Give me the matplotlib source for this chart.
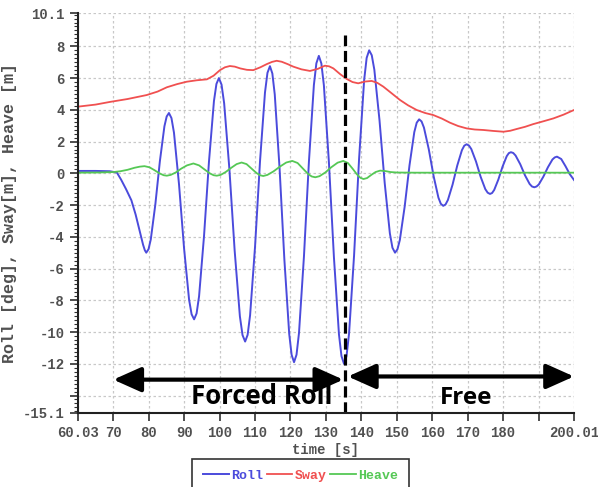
import matplotlib
matplotlib.use("Agg")
import matplotlib.pyplot as plt
from matplotlib.ticker import FixedLocator, MultipleLocator

# roll [deg]
roll_t = [60.03, 65.0, 69.0, 71.0, 72.2, 73.6, 75.1, 76.3, 77.4, 78.4, 78.9, 79.3, 79.94, 80.58,
          81.86, 83.14, 84.42, 85.06, 85.7, 86.41, 87.12, 88.54, 89.96, 91.38, 92.09, 92.8, 93.5,
          94.2, 95.6, 97.0, 98.4, 99.1, 99.8, 100.54, 101.28, 102.76, 104.24, 105.72, 106.46,
          107.2, 107.9, 108.6, 110.0, 111.4, 112.8, 113.5, 114.2, 114.88, 115.56, 116.92, 118.28,
          119.64, 120.32, 121.0, 121.7, 122.4, 123.8, 125.2, 126.6, 127.3, 128.0, 128.71, 129.42,
          130.84, 132.26, 133.68, 134.39, 135.1, 135.81, 136.52, 137.94, 139.36, 140.78, 141.49,
          142.2, 142.93, 143.66, 145.12, 146.58, 148.04, 148.77, 149.5, 150.18, 150.86, 152.22,
          153.58, 154.94, 155.62, 156.3, 156.98, 157.66, 159.02, 160.38, 161.74, 162.42, 163.1,
          163.76, 164.42, 165.74, 167.06, 168.38, 169.04, 169.7, 170.36, 171.02, 172.34, 173.66,
          174.98, 175.64, 176.3, 176.89, 177.48, 178.66, 179.84, 181.02, 181.61, 182.2, 182.86,
          183.52, 184.84, 186.16, 187.48, 188.14, 188.8, 189.44, 190.08, 191.36, 192.64, 193.92,
          194.56, 195.2, 196.4, 197.6, 198.8, 200.01]
roll_v = [0.15, 0.15, 0.13, 0.05, -0.4, -1.0, -1.7, -2.6, -3.6, -4.5, -4.85, -5.0, -4.78, -4.16,
          -1.96, 0.76, 2.96, 3.58, 3.8, 3.48, 2.56, -0.69, -4.71, -7.96, -8.88, -9.2, -8.83,
          -7.75, -3.95, 0.75, 4.55, 5.63, 6.0, 5.59, 4.41, 0.26, -4.86, -9.01, -10.19,
          -10.6, -10.18, -8.94, -4.61, 0.76, 5.09, 6.33, 6.75, 6.29, 4.97, 0.31, -5.46,
          -10.12, -11.44, -11.9, -11.43, -10.06, -5.23, 0.73, 5.56, 6.93, 7.4, 6.92, 5.55,
          0.70, -5.30, -10.15, -11.52, -12.0, -11.52, -10.11, -5.18, 0.93, 5.86, 7.27,
          7.75, 7.44, 6.53, 3.34, -0.60, -3.78, -4.69, -5.0, -4.79, -4.20, -2.10,
          0.50, 2.60, 3.19, 3.4, 3.27, 2.88, 1.52, -0.17, -1.53, -1.92, -2.05,
          -1.96, -1.68, -0.71, 0.49, 1.46, 1.74, 1.83, 1.75, 1.53, 0.75, -0.22,
          -1.00, -1.22, -1.3, -1.24, -1.05, -0.39, 0.42, 1.08, 1.27, 1.33, 1.28,
          1.12, 0.57, -0.12, -0.67, -0.83, -0.88, -0.83, -0.70, -0.21, 0.38, 0.87,
          1.0, 1.05, 0.9, 0.45, -0.05, -0.42]

# sway [m]
sway_t = [60.03, 65, 69.1, 74, 79.4, 82.5, 85.1, 88, 90.7, 93.5, 96.4, 98.3, 100.1, 101.5, 102.9,
          104.3, 105.8, 107.7, 109.5, 111.5, 113.3, 114.8, 116.1, 117.5, 119.2, 120.8, 123.1,
          125.5, 127.7, 129.7, 130.9, 132.1, 134.0, 135.9, 137.5, 139.1, 141.0, 142.9, 144.5,
          146.2, 148.5, 150.9, 153.2, 155.6, 158.0, 160.3, 162.7, 165.0, 167.3, 169.7, 172.0,
          174.4, 177.2, 180.1, 182.0, 183.8, 186.2, 188.5, 191.4, 194.2, 197.1, 200.01]
sway_v = [4.2, 4.33, 4.5, 4.68, 4.93, 5.15, 5.42, 5.62, 5.77, 5.86, 5.92, 6.15, 6.5, 6.68, 6.76,
          6.72, 6.61, 6.52, 6.5, 6.68, 6.88, 7.02, 7.09, 7.03, 6.88, 6.72, 6.55,
          6.45, 6.58, 6.78, 6.74, 6.61, 6.25, 5.94, 5.75, 5.67, 5.78, 5.82, 5.7,
          5.46, 5.05, 4.62, 4.28, 3.99, 3.8, 3.67, 3.45, 3.19, 2.98, 2.83, 2.76,
          2.73, 2.67, 2.62, 2.68, 2.79, 2.93, 3.1, 3.28, 3.46, 3.7, 3.99]

# heave [m]
heave_t = [60.03, 66, 70, 72, 74, 76, 77.5, 78.8, 80.2, 81.6, 83.0, 84.2, 85.1, 86.2, 87.6, 89.2,
           90.8, 92.6, 94.2, 95.7, 97.2, 98.3, 99.2, 100.3, 101.7, 103.3, 104.8, 106.2, 107.6,
           109.0, 110.4, 111.4, 112.3, 113.5, 115.2, 117.0, 118.8, 120.5, 122.0, 123.5, 125.0,
           126.0, 127.0, 128.2, 129.8, 131.5, 133.3, 134.9, 136.2, 137.5, 138.7, 139.7, 140.6,
           141.6, 142.8, 144.0, 145.3, 146.8, 148.2, 150.0, 155, 200.01]
heave_v = [0.04, 0.05, 0.08, 0.13, 0.22, 0.35, 0.42, 0.45, 0.38, 0.2, 0.0, -0.12, -0.15, -0.1, 0.05, 0.3,
           0.5, 0.62, 0.5, 0.25, 0.0, -0.12, -0.15, -0.1, 0.08, 0.35, 0.58, 0.68, 0.58,
           0.3, 0.02, -0.12, -0.17, -0.1, 0.12, 0.42, 0.68, 0.78, 0.65, 0.3, -0.05,
           -0.2, -0.25, -0.18, 0.05, 0.38, 0.67, 0.78, 0.65, 0.3, -0.05, -0.28, -0.36,
           -0.3, -0.1, 0.08, 0.17, 0.14, 0.08, 0.05, 0.04, 0.04]

x_ticks = [60.03, 70, 80, 90, 100, 110, 120, 130, 140, 150, 160, 170, 180, 190, 200.01]
x_labels = ["60.03", "70", "80", "90", "100", "110", "120", "130", "140", "150", "160", "170", "180", "", "200.01"]
y_ticks = [-15.1, -14, -12, -10, -8, -6, -4, -2, 0, 2, 4, 6, 8, 10.1]
y_labels = ["-15.1", "", "-12", "-10", "-8", "-6", "-4", "-2", "0", "2", "4", "6", "8", "10.1"]

split_t = 135.4
split_top = 8.7
forced_arrow = (70.0, 134.9, -13.0)
free_arrow = (136.2, 200.0, -12.8)

mono = "Liberation Mono"
tick_col = "#505050"

fig = plt.figure(figsize=(5.98, 4.87), dpi=100)
ax = fig.add_axes([0.1304, 0.152, 0.8295, 0.8213])

ax.plot(roll_t, roll_v, color="#4b4bdc", lw=1.4, label="Roll")
ax.plot(sway_t, sway_v, color="#f05050", lw=1.3, label="Sway")
ax.plot(heave_t, heave_v, color="#55c855", lw=1.3, label="Heave")

ax.set_xlim(60.03, 200.01)
ax.set_ylim(-15.1, 10.1)
ax.xaxis.set_major_locator(FixedLocator(x_ticks))
ax.set_xticklabels(x_labels)
ax.yaxis.set_major_locator(FixedLocator(y_ticks))
ax.set_yticklabels(y_labels)
ax.yaxis.set_minor_locator(MultipleLocator(0.25))

for lab in ax.get_xticklabels() + ax.get_yticklabels():
    lab.set_family(mono)
    lab.set_fontsize(10)
    lab.set_color(tick_col)
    lab.set_weight("bold")

ax.tick_params(which="major", length=6, width=1.2, color="#303030")
ax.tick_params(which="minor", length=3, width=0.8, color="#303030")
ax.grid(True, which="major", color="#c8c8c8", linestyle=(0, (2, 2)), lw=0.9)

for s in ["top", "right"]:
    ax.spines[s].set_visible(False)
for s in ["left", "bottom"]:
    ax.spines[s].set_color("#202020")
    ax.spines[s].set_linewidth(1.5)

ax.set_xlabel("time [s]", family=mono, fontsize=10, color=tick_col, weight="bold", labelpad=2)
ax.set_ylabel("Roll [deg], Sway[m], Heave [m]", family=mono, fontsize=12, color=tick_col,
              weight="bold", labelpad=4)

ax.vlines(split_t, -15.1, split_top, colors="black", lw=2.3, linestyles=(0, (3.5, 1.5)))

arrow_kw = dict(arrowstyle="<|-|>,head_length=0.85,head_width=0.38", color="black", lw=3,
                mutation_scale=20, shrinkA=0, shrinkB=0)
ax.annotate("", xy=(forced_arrow[1], forced_arrow[2]), xytext=(forced_arrow[0], forced_arrow[2]),
            arrowprops=arrow_kw)
ax.annotate("", xy=(free_arrow[1], free_arrow[2]), xytext=(free_arrow[0], free_arrow[2]),
            arrowprops=arrow_kw)
ax.text(112.0, -14.55, "Forced Roll", ha="center", va="baseline", fontsize=18.5, weight="bold",
        family="Open Sans")
ax.text(169.6, -14.55, "Free", ha="center", va="baseline", fontsize=17.5, weight="bold",
        family="Open Sans")

leg = fig.legend(loc="upper center", bbox_to_anchor=(0.5025, 0.0575), ncol=3, frameon=True,
                 fancybox=False, edgecolor="black", handlelength=1.95, handletextpad=0.15,
                 columnspacing=0.3, borderpad=0.8, borderaxespad=0,
                 prop={"family": mono, "size": 9.5, "weight": "bold"})
leg.get_frame().set_linewidth(1.2)
for txt, line in zip(leg.get_texts(), leg.get_lines()):
    txt.set_color(line.get_color())

fig.savefig("out.png", dpi=100)
